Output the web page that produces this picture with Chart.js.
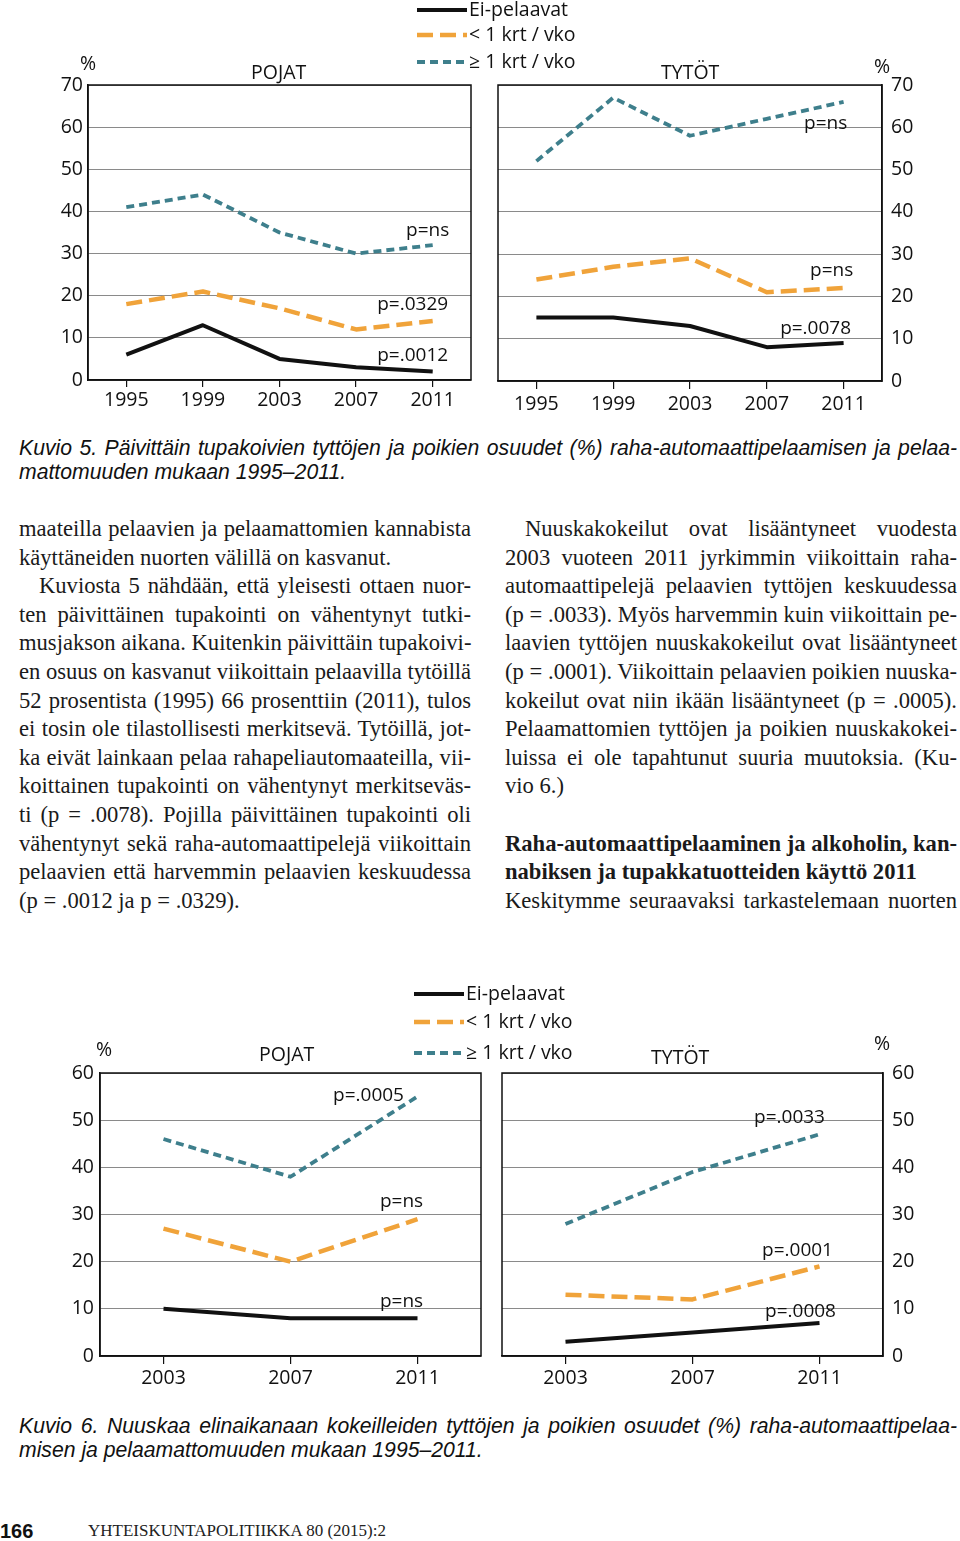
<!DOCTYPE html>
<html>
<head>
<meta charset="utf-8">
<script src="https://cdn.jsdelivr.net/npm/chart.js@4.4.1/dist/chart.umd.min.js"></script>
<style>
body { margin: 0; background: #fff; }
#page { position: relative; width: 960px; height: 1541px; overflow: hidden; font-family: "Open Sans", sans-serif; color: #111; }
.abs { position: absolute; white-space: nowrap; }
.lbl { font-size: 19.5px; line-height: 22px; }
.ln { position: absolute; white-space: nowrap; text-align: justify; text-align-last: justify;
      font-family: "Liberation Serif", serif; font-size: 22.6px; line-height: 28.6px; color: #1a1a1a; }
.ln.last { text-align-last: left; }
.ln.bold { font-weight: bold; }
.cap { position: absolute; white-space: nowrap; font-family: "Liberation Sans", sans-serif; font-style: italic;
       font-size: 21.2px; line-height: 24px; text-align: justify; text-align-last: justify; }
.cap.last { text-align-last: left; }
canvas { position: absolute; }
</style>
</head>
<body>
<div id="page">
  <canvas id="smokeBoys" width="480" height="420" style="left:0;top:0"></canvas>
  <canvas id="smokeGirls" width="480" height="420" style="left:480px;top:0"></canvas>
  <canvas id="snusBoys" width="485" height="420" style="left:0;top:980px"></canvas>
  <canvas id="snusGirls" width="475" height="420" style="left:485px;top:980px"></canvas>

  <div class="abs lbl" style="left:80px;top:52px">%</div>
  <div class="abs lbl" style="left:251px;top:61px">POJAT</div>
  <div class="abs lbl" style="left:661px;top:61px">TYTÖT</div>
  <div class="abs lbl" style="left:874px;top:55px">%</div>

  <div class="abs lbl" style="left:96px;top:1038px">%</div>
  <div class="abs lbl" style="left:259px;top:1043px">POJAT</div>
  <div class="abs lbl" style="left:651px;top:1046px">TYTÖT</div>
  <div class="abs lbl" style="left:874px;top:1032px">%</div>

  <div id="legendTop"></div>
  <div id="legendBottom"></div>

  <div class="cap" style="left:19px;top:436px;width:938px">Kuvio 5. Päivittäin tupakoivien tyttöjen ja poikien osuudet (%) raha-automaattipelaamisen ja pelaa-</div>
  <div class="cap last" style="left:19px;top:460px">mattomuuden mukaan 1995–2011.</div>

  <div id="textBody"></div>

  <div class="cap" style="left:19px;top:1414px;width:938px">Kuvio 6. Nuuskaa elinaikanaan kokeilleiden tyttöjen ja poikien osuudet (%) raha-automaattipelaa-</div>
  <div class="cap last" style="left:19px;top:1438px">misen ja pelaamattomuuden mukaan 1995–2011.</div>

  <div class="abs" style="left:0;top:1518px;font-family:'Liberation Sans',sans-serif;font-weight:bold;font-size:20px;line-height:26px">166</div>
  <div class="abs" style="left:88px;top:1520px;font-family:'Liberation Serif',serif;font-size:17px;line-height:22px;color:#222">YHTEISKUNTAPOLITIIKKA 80 (2015):2</div>
</div>

<script>
// vuodet
const years5 = ['1995', '1999', '2003', '2007', '2011'];
const years3 = ['2003', '2007', '2011'];
const seriesNames = ['Ei-pelaavat', '< 1 krt / vko', '≥ 1 krt / vko'];

// Kuvio 5: päivittäin tupakoivat (%)
const smokeBoysNone = [6, 13, 5, 3, 2];
const smokeBoysLess = [18, 21, 17, 12, 14];
const smokeBoysWeekly = [41, 44, 35, 30, 32];
const smokeGirlsNone = [15, 15, 13, 8, 9];
const smokeGirlsLess = [24, 27, 29, 21, 22];
const smokeGirlsWeekly = [52, 67, 58, 62, 66];

// Kuvio 6: nuuskaa kokeilleet (%)
const snusBoysNone = [10, 8, 8];
const snusBoysLess = [27, 20, 29];
const snusBoysWeekly = [46, 38, 55];
const snusGirlsNone = [3, 5, 7];
const snusGirlsLess = [13, 12, 19];
const snusGirlsWeekly = [28, 39, 47];

// p-arvot (teksti ja korkeus y-asteikolla)
const pSmokeBoys = ['p=ns', 'p=.0329', 'p=.0012'];
const pSmokeBoysY = [35.4, 18, 5.9];
const pSmokeGirls = ['p=ns', 'p=ns', 'p=.0078'];
const pSmokeGirlsY = [60.8, 26.2, 12.5];
const pSnusBoys = ['p=.0005', 'p=ns', 'p=ns'];
const pSnusBoysY = [55.2, 32.7, 11.5];
const pSnusGirls = ['p=.0033', 'p=.0001', 'p=.0008'];
const pSnusGirlsY = [50.5, 22.4, 9.5];

// tyylit
const lineColors = ['#111111', '#f0a33a', '#3e7f8c'];
const lineWidths = [4, 4.5, 3.8];
const lineDashes = [[], [16, 7], [8, 5]];

const extras = {
    id: 'extras',
    afterDatasetsDraw(chart, args, o) {
        const { ctx, chartArea: a, scales: { x, y } } = chart;
        ctx.save();
        ctx.strokeStyle = '#111';
        ctx.lineWidth = 1.5;
        ctx.strokeRect(a.left, a.top, a.right - a.left, a.bottom - a.top);
        ctx.font = '19px "Open Sans"';
        ctx.fillStyle = '#111';
        ctx.textAlign = 'center';
        ctx.textBaseline = 'middle';
        o.labels.forEach((t, i) => {
            ctx.fillText(t, x.getPixelForValue(x.max) + o.dx[i], y.getPixelForValue(o.ys[i]));
        });
        ctx.restore();
    }
};

function makeChart(id, labels, values, opt) {
    const canvas = document.getElementById(id);
    const datasets = values.map((v, i) => ({
        label: seriesNames[i],
        data: v,
        borderColor: lineColors[i],
        borderWidth: lineWidths[i],
        borderDash: lineDashes[i],
        borderCapStyle: 'butt',
        borderJoinStyle: 'round',
        pointRadius: 0,
        tension: 0,
        fill: false
    }));
    return new Chart(canvas, {
        type: 'line',
        data: { labels: labels, datasets: datasets },
        plugins: [extras],
        options: {
            responsive: false,
            animation: false,
            layout: { padding: opt.padding },
            plugins: {
                legend: { display: false },
                tooltip: { enabled: false },
                extras: { labels: opt.pLabels, ys: opt.pY, dx: opt.pDx }
            },
            scales: {
                x: {
                    offset: true,
                    grid: { drawOnChartArea: false, drawTicks: true, tickLength: opt.tickLen, color: '#111', lineWidth: 1.2 },
                    border: { color: '#111', width: 1.5 },
                    ticks: { color: '#111', font: { family: 'Open Sans', size: 19.5 }, padding: opt.xPad, maxRotation: 0 },
                    afterFit: s => { s.height = opt.xHeight; }
                },
                y: {
                    position: opt.yPos,
                    min: 0,
                    max: opt.yMax,
                    grid: { color: '#8a8a8a', lineWidth: 1, drawTicks: false },
                    border: { color: '#111', width: 1.5 },
                    ticks: { stepSize: 10, color: '#111', font: { family: 'Open Sans', size: 19.5 }, padding: opt.yPad },
                    afterFit: s => { s.width = opt.yWidth; }
                }
            }
        }
    });
}

makeChart('smokeBoys', years5, [smokeBoysNone, smokeBoysLess, smokeBoysWeekly], {
    padding: { top: 85, right: 9, left: 0, bottom: 0 }, yWidth: 88, xHeight: 40, yPos: 'left', yMax: 70,
    tickLen: 7, xPad: 2, yPad: 5, pLabels: pSmokeBoys, pY: pSmokeBoysY, pDx: [-5, -20, -20]
});
makeChart('smokeGirls', years5, [smokeGirlsNone, smokeGirlsLess, smokeGirlsWeekly], {
    padding: { top: 85, right: 0, left: 18, bottom: 0 }, yWidth: 78, xHeight: 39, yPos: 'right', yMax: 70,
    tickLen: 8, xPad: 4, yPad: 9, pLabels: pSmokeGirls, pY: pSmokeGirlsY, pDx: [-18, -12, -28]
});
makeChart('snusBoys', years3, [snusBoysNone, snusBoysLess, snusBoysWeekly], {
    padding: { top: 93, right: 4, left: 0, bottom: 0 }, yWidth: 100, xHeight: 44, yPos: 'left', yMax: 60,
    tickLen: 8, xPad: 3, yPad: 6, pLabels: pSnusBoys, pY: pSnusBoysY, pDx: [-49, -16, -16]
});
makeChart('snusGirls', years3, [snusGirlsNone, snusGirlsLess, snusGirlsWeekly], {
    padding: { top: 93, right: 0, left: 17, bottom: 0 }, yWidth: 77, xHeight: 44, yPos: 'right', yMax: 60,
    tickLen: 8, xPad: 3, yPad: 9, pLabels: pSnusGirls, pY: pSnusGirlsY, pDx: [-30, -22, -19]
});

// selitteet
function buildLegend(elId, left, tops) {
    const el = document.getElementById(elId);
    el.innerHTML = seriesNames.map((name, i) =>
        '<svg class="abs" style="left:' + left + 'px;top:' + (tops[i] - 4) + 'px" width="50" height="8">' +
        '<line x1="0" y1="4" x2="50" y2="4" stroke="' + lineColors[i] + '" stroke-width="' + lineWidths[i] + '"' +
        (lineDashes[i].length ? ' stroke-dasharray="' + lineDashes[i].join(' ') + '"' : ' stroke-linecap="round"') + '/></svg>' +
        '<div class="abs lbl" style="left:' + (left + 52) + 'px;top:' + (tops[i] - 12) + 'px">' + name + '</div>'
    ).join('');
}
buildLegend('legendTop', 417, [10, 35, 62]);
buildLegend('legendBottom', 414, [994, 1022, 1053]);

// leipäteksti
const leftLines = [
    ['maateilla pelaavien ja pelaamattomien kannabista', ''],
    ['käyttäneiden nuorten välillä on kasvanut.', 'last'],
    ['Kuviosta 5 nähdään, että yleisesti ottaen nuor-', 'indent'],
    ['ten päivittäinen tupakointi on vähentynyt tutki-', ''],
    ['musjakson aikana. Kuitenkin päivittäin tupakoivi-', ''],
    ['en osuus on kasvanut viikoittain pelaavilla tytöillä', ''],
    ['52 prosentista (1995) 66 prosenttiin (2011), tulos', ''],
    ['ei tosin ole tilastollisesti merkitsevä. Tytöillä, jot-', ''],
    ['ka eivät lainkaan pelaa rahapeliautomaateilla, vii-', ''],
    ['koittainen tupakointi on vähentynyt merkitseväs-', ''],
    ['ti (p = .0078). Pojilla päivittäinen tupakointi oli', ''],
    ['vähentynyt sekä raha-automaattipelejä viikoittain', ''],
    ['pelaavien että harvemmin pelaavien keskuudessa', ''],
    ['(p = .0012 ja p = .0329).', 'last']
];
const rightLines = [
    ['Nuuskakokeilut ovat lisääntyneet vuodesta', 'indent'],
    ['2003 vuoteen 2011 jyrkimmin viikoittain raha-', ''],
    ['automaattipelejä pelaavien tyttöjen keskuudessa', ''],
    ['(p = .0033). Myös harvemmin kuin viikoittain pe-', ''],
    ['laavien tyttöjen nuuskakokeilut ovat lisääntyneet', ''],
    ['(p = .0001). Viikoittain pelaavien poikien nuuska-', ''],
    ['kokeilut ovat niin ikään lisääntyneet (p = .0005).', ''],
    ['Pelaamattomien tyttöjen ja poikien nuuskakokei-', ''],
    ['luissa ei ole tapahtunut suuria muutoksia. (Ku-', ''],
    ['vio 6.)', 'last'],
    ['', 'last'],
    ['Raha-automaattipelaaminen ja alkoholin, kan-', 'bold'],
    ['nabiksen ja tupakkatuotteiden käyttö 2011', 'bold last'],
    ['Keskitymme seuraavaksi tarkastelemaan nuorten', '']
];
function placeLines(lines, left, width) {
    return lines.map((l, i) => {
        const ind = l[1].indexOf('indent') >= 0 ? 20 : 0;
        const cls = 'ln' + (l[1].indexOf('last') >= 0 ? ' last' : '') + (l[1].indexOf('bold') >= 0 ? ' bold' : '');
        return '<div class="' + cls + '" style="left:' + (left + ind) + 'px;top:' + (515 + i * 28.6) +
            'px;width:' + (width - ind) + 'px">' + l[0] + '</div>';
    }).join('');
}
document.getElementById('textBody').innerHTML = placeLines(leftLines, 19, 452) + placeLines(rightLines, 505, 452);

// liian pitkät rivit tiivistetään kirjainväliä pienentämällä
document.querySelectorAll('.ln, .cap').forEach(el => {
    const over = el.scrollWidth - el.clientWidth;
    if (over > 0 && el.textContent.length) {
        el.style.letterSpacing = (-(over + 2) / el.textContent.length).toFixed(3) + 'px';
    }
});
</script>
</body>
</html>
